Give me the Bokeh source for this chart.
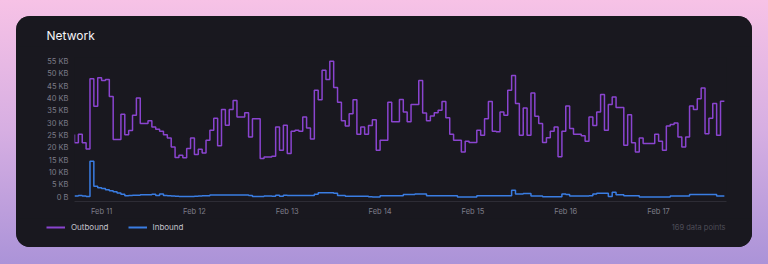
import pandas as pd
from bokeh.plotting import figure
from bokeh.models import (ColumnDataSource, Legend, LegendItem, Label, FixedTicker,
                          DaysTicker, DatetimeTickFormatter, Range1d)
from bokeh.layouts import column
from bokeh.embed import file_html
from bokeh.resources import INLINE

# ---------------- data ----------------
chart_title = "Network"
series_names = ["Outbound", "Inbound"]
start_time = "2024-02-10 17:00"
footer_text = "169 data points"

outbound_kb = [
    25.4, 22.0, 25.5, 22.0, 19.5, 48.0, 36.8, 48.4, 47.3, 47.7,
    40.8, 23.3, 23.3, 33.6, 25.3, 27.0, 33.2, 40.2, 29.8, 29.8,
    30.9, 28.4, 27.5, 26.7, 25.3, 24.0, 20.3, 16.0, 17.0, 15.9,
    19.7, 24.0, 17.3, 19.4, 17.9, 23.0, 27.1, 32.0, 20.8, 35.5,
    29.1, 35.5, 39.2, 32.5, 32.5, 34.2, 24.4, 31.8, 31.8, 15.6,
    16.2, 16.2, 16.6, 28.4, 19.0, 29.1, 17.7, 26.7, 27.1, 26.7,
    32.5, 28.0, 23.5, 43.3, 39.5, 51.4, 47.7, 55.1, 44.4, 38.5,
    30.9, 28.8, 33.8, 39.5, 25.5, 28.4, 25.5, 29.0, 31.4, 19.0,
    23.0, 23.0, 38.5, 30.5, 30.5, 39.6, 34.5, 30.5, 37.5, 37.5,
    47.3, 34.1, 30.9, 32.9, 34.2, 35.2, 38.8, 32.2, 25.5, 23.0,
    23.0, 18.3, 22.6, 22.1, 22.1, 27.1, 25.1, 31.8, 38.8, 26.7,
    26.5, 34.5, 33.2, 43.3, 49.3, 37.9, 25.1, 36.1, 25.1, 42.2,
    32.8, 29.8, 22.1, 24.1, 26.7, 28.4, 16.3, 26.7, 36.9, 27.8,
    25.5, 25.5, 24.9, 22.6, 32.5, 29.0, 34.5, 41.6, 27.1, 37.5,
    40.6, 36.3, 36.3, 21.0, 33.4, 22.0, 18.3, 24.0, 21.7, 21.7,
    21.7, 25.5, 22.6, 19.0, 28.8, 29.4, 30.0, 24.4, 20.3, 24.4,
    36.9, 35.5, 39.9, 44.2, 25.7, 32.0, 37.9, 25.1, 38.9,
]

inbound_kb = [
    0.4, 0.4, 0.6, 0.4, 0.2, 14.5, 4.4, 3.8, 3.5, 3.0,
    2.6, 2.2, 1.6, 1.1, 0.5, 0.6, 0.7, 0.7, 0.9, 0.9,
    0.9, 1.1, 0.6, 1.2, 0.6, 0.5, 0.4, 0.3, 0.2, 0.2,
    0.2, 0.2, 0.3, 0.4, 0.5, 0.5, 0.8, 0.8, 0.8, 0.8,
    0.8, 0.8, 0.8, 0.8, 0.8, 0.8, 0.6, 0.2, 0.2, 0.2,
    0.4, 0.4, 0.3, 0.7, 0.3, 0.7, 0.6, 0.6, 0.6, 0.6,
    0.6, 0.6, 0.6, 1.1, 1.7, 1.7, 1.7, 1.7, 1.5, 0.6,
    0.6, 0.3, 0.3, 0.3, 0.3, 0.3, 0.3, 0.1, 0.05, 0.05,
    0.5, 0.5, 0.5, 0.5, 0.5, 0.5, 1.0, 1.0, 1.0, 1.2,
    1.2, 1.2, 0.5, 0.5, 0.5, 0.5, 0.5, 0.5, 0.5, 0.5,
    0.05, 0.05, 0.05, 0.05, 0.05, 0.5, 0.5, 0.5, 0.5, 0.5,
    0.5, 0.5, 0.5, 0.5, 2.8, 1.2, 1.2, 1.4, 1.4, 0.4,
    0.4, 0.4, 0.1, 0.1, 0.1, 0.1, 0.1, 1.2, 1.0, 0.4,
    0.4, 0.4, 0.4, 0.4, 0.5, 1.2, 1.5, 1.5, 1.5, 0.2,
    2.0, 0.9, 0.9, 0.5, 0.5, 0.5, 0.5, 0.05, 0.05, 0.05,
    0.05, 0.05, 0.05, 0.05, 0.05, 0.4, 0.4, 0.4, 0.4, 0.4,
    1.0, 1.0, 1.0, 1.0, 1.0, 1.0, 1.0, 0.4, 0.4,
]

y_tick_values = [0, 5, 10, 15, 20, 25, 30, 35, 40, 45, 50, 55]
y_tick_labels = ["0 B", "5 KB", "10 KB", "15 KB", "20 KB", "25 KB", "30 KB",
                 "35 KB", "40 KB", "45 KB", "50 KB", "55 KB"]

# ---------------- styling ----------------
FONT = "Inter"
CARD = "#19181f"
PURPLE = "#8a44cf"
BLUE = "#3a7de3"
CARD_W, CARD_H = 736, 231
HEAD_H = 30
FOOT_H = 29
MAIN_H = CARD_H - HEAD_H - FOOT_H


def strip(height):
    s = figure(width=CARD_W, height=height, output_backend="svg", toolbar_location=None,
               x_range=Range1d(0, CARD_W), y_range=Range1d(0, height),
               x_axis_location=None, y_axis_location=None,
               min_border=0, min_border_left=0, min_border_right=0,
               min_border_top=0, min_border_bottom=0)
    s.frame_align = False
    s.background_fill_color = CARD
    s.border_fill_color = CARD
    s.outline_line_color = None
    s.xgrid.visible = False
    s.ygrid.visible = False
    return s


times = pd.date_range(start_time, periods=len(outbound_kb), freq="h")
src = ColumnDataSource(dict(t=times, out=outbound_kb, inb=inbound_kb))

# ---------------- header strip: title ----------------
h = strip(HEAD_H)
h.add_layout(Label(x=30, y=HEAD_H - 19, text=chart_title, text_align="left",
                   text_baseline="middle", text_font=FONT, text_font_size="12px",
                   text_color="#f4f4f7"))

# ---------------- main chart ----------------
p = figure(width=CARD_W, height=MAIN_H, x_axis_type="datetime",
           output_backend="svg", toolbar_location=None,
           x_range=Range1d(times[0], times[-1] + pd.Timedelta(minutes=33)),
           y_range=Range1d(-1.8, 56.6),
           min_border_left=58, min_border_right=26,
           min_border_top=11, min_border_bottom=17)
p.frame_align = False
p.background_fill_color = CARD
p.border_fill_color = CARD
p.outline_line_color = None
p.xgrid.visible = False
p.ygrid.visible = False

r_out = p.step("t", "out", source=src, mode="before", line_color=PURPLE, line_width=1.5)
r_in = p.step("t", "inb", source=src, mode="before", line_color=BLUE, line_width=1.5)

xa = p.xaxis[0]
xa.ticker = DaysTicker(days=list(range(1, 32)))
xa.formatter = DatetimeTickFormatter(days="%b %d", months="%b %d", hours="%b %d")
xa.axis_line_color = "#2d2c35"
xa.axis_line_width = 1
xa.major_tick_line_color = None
xa.minor_tick_line_color = None
xa.major_tick_out = 0
xa.major_tick_in = 0
xa.minor_tick_out = 0
xa.major_label_standoff = 5
xa.major_label_text_font = FONT
xa.major_label_text_font_size = "7.5px"
xa.major_label_text_color = "#7d7c88"

ya = p.yaxis[0]
ya.ticker = FixedTicker(ticks=y_tick_values)
ya.major_label_overrides = {v: s for v, s in zip(y_tick_values, y_tick_labels)}
ya.axis_line_color = None
ya.major_tick_line_color = None
ya.minor_tick_line_color = None
ya.major_tick_out = 0
ya.major_tick_in = 0
ya.minor_tick_out = 0
ya.major_label_standoff = 6
ya.major_label_text_font = FONT
ya.major_label_text_font_size = "7.5px"
ya.major_label_text_color = "#7d7c88"

# ---------------- footer strip: legend + point count ----------------
# pixel-like ranges; the series drawn here fall outside them and only feed the legend swatches
f = strip(FOOT_H)
k_out = f.step("t", "out", source=src, mode="before", line_color=PURPLE, line_width=2)
k_in = f.step("t", "inb", source=src, mode="before", line_color=BLUE, line_width=2)

legend = Legend(items=[LegendItem(label=series_names[0], renderers=[k_out]),
                       LegendItem(label=series_names[1], renderers=[k_in])],
                orientation="horizontal", location=(30, 15),
                padding=0, margin=0, spacing=19,
                glyph_width=19, glyph_height=10, label_height=10,
                label_standoff=6,
                border_line_color=None, background_fill_alpha=0,
                label_text_font=FONT, label_text_font_size="8px",
                label_text_color="#c4c3cc", label_text_baseline="middle")
f.add_layout(legend, "center")

f.add_layout(Label(x=709, y=20, text=footer_text,
                   text_align="right", text_baseline="middle", text_font=FONT,
                   text_font_size="7.5px", text_color="#4e4d58"))

card = column(h, p, f, width=CARD_W, height=CARD_H, margin=(16, 16, 17, 16),
              styles={"background": CARD, "border-radius": "14px", "overflow": "hidden"})

page = column(card, width=768, height=264,
              styles={"background": "linear-gradient(180deg, #f7c2e6 0%, #d6aee2 50%, #ab93d8 100%)"})

open("out.html", "w").write(file_html(page, INLINE))
